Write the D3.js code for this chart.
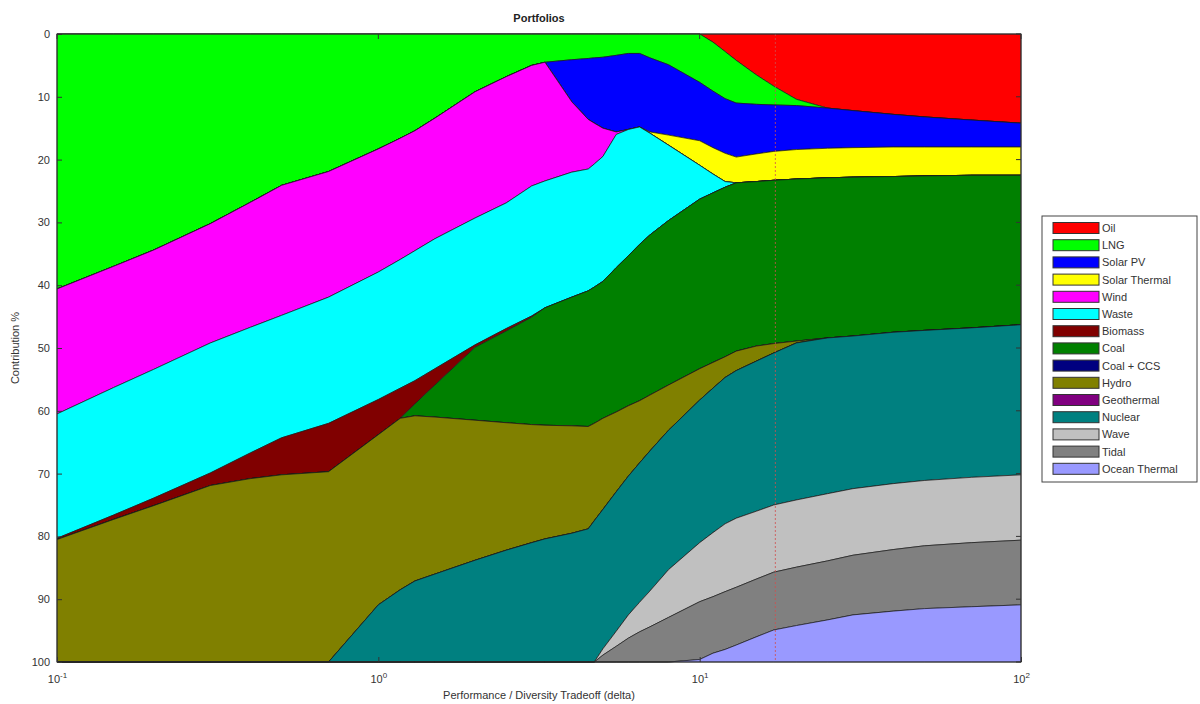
<!DOCTYPE html>
<html>
<head>
<meta charset="utf-8">
<script src="https://cdn.jsdelivr.net/npm/d3@7"></script>
<style>
  html, body { margin: 0; padding: 0; background: #ffffff; }
  svg { display: block; font-family: "Liberation Sans", "DejaVu Sans", Arial, sans-serif; }
</style>
</head>
<body>
<svg id="chart" width="1200" height="704"></svg>
<script>
// ---- data (delta on log axis, contribution % per technology) ----
const deltas = [0.1, 0.15, 0.2, 0.3, 0.4, 0.5, 0.7, 1.0, 1.17, 1.3, 1.5, 2, 2.5, 3, 3.3, 4, 4.5, 4.7, 5, 5.5, 6, 6.5, 7, 8, 10, 11, 12, 13, 15, 17, 20, 25, 30, 40, 50, 70, 100];

const techNames = ["Oil", "LNG", "Solar PV", "Solar Thermal", "Wind", "Waste", "Biomass", "Coal", "Coal + CCS", "Hydro", "Geothermal", "Nuclear", "Wave", "Tidal", "Ocean Thermal"];
const techColors = ["#ff0000", "#00ff00", "#0000ff", "#ffff00", "#ff00ff", "#00ffff", "#800000", "#008000", "#000080", "#808000", "#800080", "#008080", "#c0c0c0", "#808080", "#9999ff"];

const oil      = [0,0,0,0,0,0,0,0,0,0, 0,0,0,0,0,0,0,0,0,0, 0,0,0,0,0, 1.3,2.8,4.2,6.5,8.3,10.4,11.8,12.2,12.8,13.2,13.7,14.2];
const lng      = [40.6,37.0,34.4,30.2,26.8,24.1,21.9,18.3,16.6,15.4,13.4,9.2,6.8,5.0,4.5,4.1,3.9,3.8,3.7,3.4,3.1,3.1,3.8,4.9,7.7,7.8,7.5,6.8,4.7,3.0,1.0,0,0,0,0,0,0];
const solarPV  = [0,0,0,0,0,0,0,0,0,0,0,0,0,0,0, 6.7,9.7,10.4,11.3,12.2,12.1,11.7,11.8,11.2,9.3,9.0,8.7,8.6,7.9,7.4,7.0,6.4,5.9,5.2,4.8,4.3,3.8];
const solarTh  = [0,0,0,0,0,0,0,0,0,0,0,0,0,0,0,0,0,0,0,0,0,0, 0.2,1.6,3.9,4.2,4.5,4.1,4.4,4.6,4.7,4.7,4.7,4.7,4.6,4.5,4.5];
const wind     = [19.9,19.3,19.0,19.0,19.9,20.7,20.0,19.6,19.3,19.1,19.2,20.1,20.1,19.2,18.9,11.2,7.9,6.5,4.5,0.4,0,0,0,0,0,0,0,0,0,0,0,0,0,0,0,0,0];
const waste    = [19.8,20.3,20.5,20.7,20.0,19.5,20.1,20.3,20.5,20.7,20.7,20.2,20.0,20.7,20.2,19.9,19.4,19.6,19.9,21.2,20.1,18.7,16.2,12.0,5.4,3.0,0.9,0,0,0,0,0,0,0,0,0,0];
const biomass  = [0.2,0.7,1.2,2.0,4.1,5.9,7.7,5.6,4.8,3.7,2.6,0.4,0.4,0.2,0,0,0,0,0,0,0,0,0,0,0,0,0,0,0,0,0,0,0,0,0,0,0];
const coal     = [0,0,0,0,0,0,0,0,0, 1.9,5.1,11.6,14.6,17.1,18.7,20.5,21.6,21.7,21.8,23.0,23.9,24.9,25.5,26.2,27.0,27.0,27.0,26.8,26.2,26.0,25.8,25.5,25.3,24.8,24.6,24.3,23.8];
const coalCCS  = [0,0,0,0,0,0,0,0,0,0,0,0,0,0,0,0,0,0,0,0,0,0,0,0,0,0,0,0,0,0,0,0,0,0,0,0,0];
const hydro    = [19.5,22.7,24.9,28.1,29.2,29.8,30.3,27.1,27.3,26.3,25.0,22.3,20.3,18.8,18.1,17.1,16.3,15.5,14.5,12.7,11.2,9.9,8.9,7.2,5.0,4.1,3.3,3.1,2.4,1.5,0.3,0,0,0,0,0,0];
const geothermal = [0,0,0,0,0,0,0,0,0,0,0,0,0,0,0,0,0,0,0,0,0,0,0,0,0,0,0,0,0,0,0,0,0,0,0,0,0];
const nuclear  = [0,0,0,0,0,0,0, 9.1,11.5,12.9,14.0,16.2,17.8,19.0,19.6,20.5,21.2,22.5,22.2,22.2,22.1,22.2,22.3,22.2,22.7,23.0,23.3,23.5,23.9,24.2,25.0,24.8,24.3,24.1,23.9,23.8,23.9];
const wave     = [0,0,0,0,0,0,0,0,0,0,0,0,0,0,0,0,0,0, 1.0,2.4,3.7,4.7,5.7,7.6,9.4,10.2,10.8,11.0,10.8,10.7,10.7,10.7,10.6,10.5,10.4,10.4,10.4];
const tidal    = [0,0,0,0,0,0,0,0,0,0,0,0,0,0,0,0,0,0, 1.1,2.5,3.8,4.8,5.6,7.1,9.2,9.0,9.2,9.2,9.2,9.2,9.3,9.4,9.5,9.8,10.0,10.2,10.3];
const oceanTh  = [0,0,0,0,0,0,0,0,0,0,0,0,0,0,0,0,0,0,0,0,0,0,0,0, 0.4,1.4,2.0,2.7,4.0,5.1,5.8,6.7,7.5,8.1,8.5,8.8,9.1];

const yTicks = [0, 10, 20, 30, 40, 50, 60, 70, 80, 90, 100];
const xTicks = [0.1, 1, 10, 100];
const xTickExps = ["-1", "0", "1", "2"];
const markerDelta = 17.2;

const titleText = "Portfolios";
const xLabel = "Performance / Diversity Tradeoff (delta)";
const yLabel = "Contribution %";

// ---- build table ----
const seriesArrays = [oil, lng, solarPV, solarTh, wind, waste, biomass, coal, coalCCS, hydro, geothermal, nuclear, wave, tidal, oceanTh];
const table = deltas.map((d, i) => {
  const row = { delta: d };
  techNames.forEach((n, k) => { row[n] = seriesArrays[k][i]; });
  return row;
});

// ---- layout ----
const svg = d3.select("#chart");
const L = 57, R = 1021, T = 34, B = 662;

const x = d3.scaleLog().domain([0.1, 100]).range([L, R]);
const y = d3.scaleLinear().domain([0, 100]).range([T, B]);

const stack = d3.stack().keys(techNames).order(d3.stackOrderNone).offset(d3.stackOffsetNone);
const layers = stack(table);

const area = d3.area()
  .x(d => x(d.data.delta))
  .y0(d => y(d[0]))
  .y1(d => y(d[1]))
  .curve(d3.curveLinear);

svg.append("g")
  .selectAll("path")
  .data(layers)
  .join("path")
  .attr("d", area)
  .attr("fill", (d, i) => techColors[i])
  .attr("stroke", "#1a1a1a")
  .attr("stroke-width", 0.7)
  .attr("stroke-linejoin", "round");

// dotted marker line
svg.append("line")
  .attr("x1", x(markerDelta)).attr("x2", x(markerDelta))
  .attr("y1", y(0)).attr("y2", y(100))
  .attr("stroke", "#d05050")
  .attr("stroke-width", 1)
  .attr("stroke-dasharray", "2,2")
  .attr("opacity", 0.8);

// box
svg.append("rect")
  .attr("x", L).attr("y", T).attr("width", R - L).attr("height", B - T)
  .attr("fill", "none").attr("stroke", "#333").attr("stroke-width", 1);

// y axis
const yAxis = d3.axisLeft(y).tickValues(yTicks).tickSize(-5).tickPadding(7).tickFormat(d3.format("d"));
const gy = svg.append("g").attr("transform", `translate(${L},0)`).call(yAxis);
gy.select(".domain").remove();
gy.selectAll(".tick line").attr("stroke", "#333");
gy.selectAll(".tick text").attr("font-size", 11).attr("fill", "#333")
  .attr("font-family", "Liberation Sans, DejaVu Sans, sans-serif");

// x axis
const xAxis = d3.axisBottom(x).tickValues(xTicks).tickSize(-5).tickPadding(10).tickFormat(() => "");
const gx = svg.append("g").attr("transform", `translate(0,${B})`).call(xAxis);
gx.select(".domain").remove();
gx.selectAll(".tick line").attr("stroke", "#333");
gx.selectAll(".tick text").remove();
gx.selectAll(".tick").each(function(d, i) {
  const t = d3.select(this).append("text")
    .attr("y", 21).attr("text-anchor", "middle")
    .attr("fill", "#333").attr("font-size", 11);
  t.append("tspan").text("10");
  t.append("tspan").attr("dy", -5).attr("font-size", 8).text(xTickExps[i]);
});

// right & top box ticks (MATLAB style)
yTicks.forEach(v => {
  svg.append("line").attr("x1", R).attr("x2", R - 5).attr("y1", y(v)).attr("y2", y(v)).attr("stroke", "#333");
});
xTicks.forEach(v => {
  svg.append("line").attr("x1", x(v)).attr("x2", x(v)).attr("y1", T).attr("y2", T + 5).attr("stroke", "#333");
});

// title & labels
svg.append("text").attr("x", (L + R) / 2).attr("y", 22).attr("text-anchor", "middle")
  .attr("font-size", 11).attr("font-weight", "bold").attr("fill", "#222").text(titleText);
svg.append("text").attr("x", (L + R) / 2).attr("y", 699).attr("text-anchor", "middle")
  .attr("font-size", 11).attr("fill", "#333").text(xLabel);
svg.append("text").attr("transform", `translate(19,${(T + B) / 2}) rotate(-90)`).attr("text-anchor", "middle")
  .attr("font-size", 11).attr("fill", "#333").text(yLabel);

// legend
const lg = svg.append("g");
const lgX = 1042, lgY = 216, lgW = 155, lgH = 266, rowH = 17.2;
lg.append("rect").attr("x", lgX).attr("y", lgY).attr("width", lgW).attr("height", lgH)
  .attr("fill", "#fff").attr("stroke", "#444").attr("stroke-width", 1);
techNames.forEach((n, i) => {
  const cy = 228 + i * rowH;
  lg.append("rect").attr("x", 1053).attr("y", cy - 5.5).attr("width", 46).attr("height", 11)
    .attr("fill", techColors[i]).attr("stroke", "#333").attr("stroke-width", 1);
  lg.append("text").attr("x", 1102).attr("y", cy + 4).attr("font-size", 11).attr("fill", "#333").text(n);
});
</script>
</body>
</html>
